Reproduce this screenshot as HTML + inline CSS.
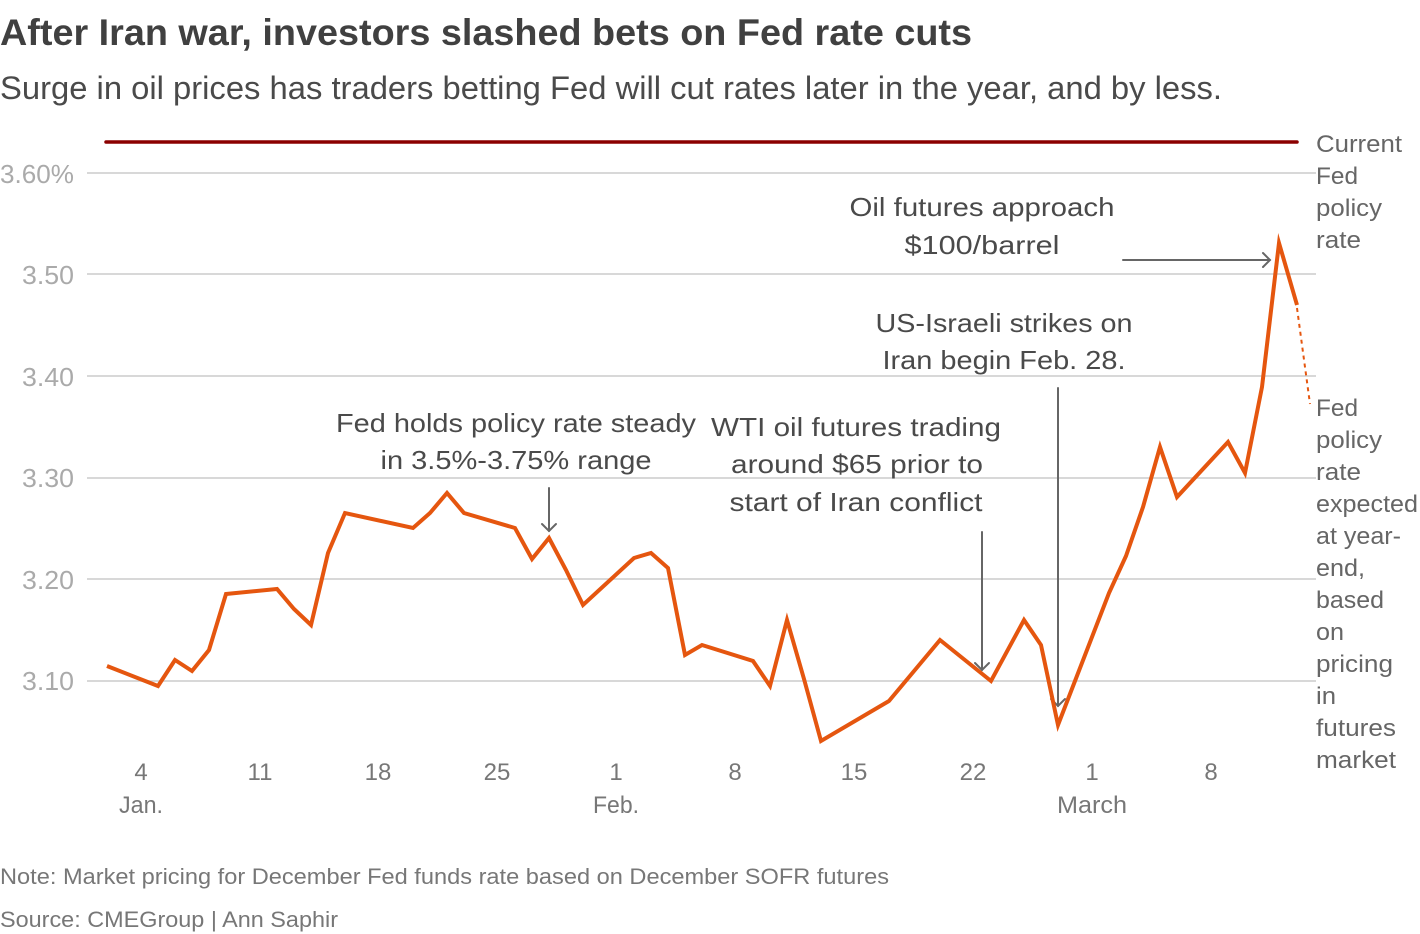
<!DOCTYPE html>
<html>
<head>
<meta charset="utf-8">
<style>
  html, body { margin: 0; padding: 0; background: #fff; }
  svg { display: block; }
  text { font-family: "Liberation Sans", "DejaVu Sans", sans-serif; }
</style>
</head>
<body>
<svg width="1420" height="934" viewBox="0 0 1420 934" xmlns="http://www.w3.org/2000/svg">
  <rect width="1420" height="934" fill="#fff"/>

  <!-- Title & subtitle -->
  <text x="0" y="45" font-size="37" font-weight="bold" fill="#404040" textLength="972" lengthAdjust="spacingAndGlyphs">After Iran war, investors slashed bets on Fed rate cuts</text>
  <text x="0" y="99" font-size="32" fill="#4a4a4a" textLength="1222" lengthAdjust="spacingAndGlyphs">Surge in oil prices has traders betting Fed will cut rates later in the year, and by less.</text>

  <!-- Gridlines -->
  <g stroke="#cccccc" stroke-width="1.4">
    <line x1="87" y1="173" x2="1316" y2="173"/>
    <line x1="87" y1="274" x2="1316" y2="274"/>
    <line x1="87" y1="376" x2="1316" y2="376"/>
    <line x1="87" y1="478" x2="1316" y2="478"/>
    <line x1="87" y1="579" x2="1316" y2="579"/>
    <line x1="87" y1="681" x2="1316" y2="681"/>
  </g>

  <!-- Y labels -->
  <g font-size="26" fill="#aaaaaa">
    <text x="0" y="183" textLength="74" lengthAdjust="spacingAndGlyphs">3.60%</text>
    <text x="22" y="284" textLength="52" lengthAdjust="spacingAndGlyphs">3.50</text>
    <text x="22" y="386" textLength="52" lengthAdjust="spacingAndGlyphs">3.40</text>
    <text x="22" y="487" textLength="52" lengthAdjust="spacingAndGlyphs">3.30</text>
    <text x="22" y="589" textLength="52" lengthAdjust="spacingAndGlyphs">3.20</text>
    <text x="22" y="690" textLength="52" lengthAdjust="spacingAndGlyphs">3.10</text>
  </g>

  <!-- Current Fed rate line -->
  <line x1="106" y1="142" x2="1297" y2="142" stroke="#8b0000" stroke-width="3.5" stroke-linecap="round"/>

  <!-- Annotation text -->
  <g font-size="26" fill="#4a4a4a" text-anchor="middle">
    <text x="516" y="432" textLength="360" lengthAdjust="spacingAndGlyphs">Fed holds policy rate steady</text>
    <text x="516" y="469" textLength="271" lengthAdjust="spacingAndGlyphs">in 3.5%-3.75% range</text>

    <text x="856" y="436" textLength="290" lengthAdjust="spacingAndGlyphs">WTI oil futures trading</text>
    <text x="857" y="473" textLength="252" lengthAdjust="spacingAndGlyphs">around $65 prior to</text>
    <text x="856" y="511" textLength="253" lengthAdjust="spacingAndGlyphs">start of Iran conflict</text>

    <text x="1004" y="332" textLength="257" lengthAdjust="spacingAndGlyphs">US-Israeli strikes on</text>
    <text x="1004" y="369" textLength="243" lengthAdjust="spacingAndGlyphs">Iran begin Feb. 28.</text>

    <text x="982" y="216" textLength="265" lengthAdjust="spacingAndGlyphs">Oil futures approach</text>
    <text x="982" y="254" textLength="155" lengthAdjust="spacingAndGlyphs">$100/barrel</text>
  </g>

  <!-- Arrows -->
  <g stroke="#666666" stroke-width="2" fill="none" stroke-linecap="round">
    <line x1="549" y1="488" x2="549" y2="531"/>
    <polyline points="542,524 549,531 556,524"/>

    <line x1="982" y1="532" x2="982" y2="670"/>
    <polyline points="975,663 982,670 989,663"/>

    <line x1="1058" y1="388" x2="1058" y2="706"/>
    <polyline points="1051,699 1058,706 1065,699"/>

    <line x1="1123" y1="260" x2="1270" y2="260"/>
    <polyline points="1263,253 1270,260 1263,267"/>
  </g>

  <!-- Data series -->
  <polyline fill="none" stroke="#e5560f" stroke-width="4" stroke-linejoin="miter" stroke-miterlimit="6"
    points="107,666 158,686 175,660 192,671 209,650 226,594 277,589 294,609 311,625 328,553 345,513 413,528 430,513 447,493 464,513 515,528 532,559 549,538 566,570 583,605 634,558 651,553 668,568 685,655 702,645 753,661 770,686 787,620 804,679 821,741 889,701 940,640 991,681 1024,620 1041,645 1058,725 1109,593 1126,556 1143,507 1160,447 1177,497 1228,442 1245,473 1262,387 1279,243 1297,305"/>
  <line x1="1297" y1="308" x2="1310" y2="404" stroke="#e5560f" stroke-width="2" stroke-dasharray="4 4"/>

  <!-- X labels -->
  <g font-size="24" fill="#777777" text-anchor="middle">
    <text x="141" y="780">4</text>
    <text x="260" y="780">11</text>
    <text x="378" y="780">18</text>
    <text x="497" y="780">25</text>
    <text x="616" y="780">1</text>
    <text x="735" y="780">8</text>
    <text x="854" y="780">15</text>
    <text x="973" y="780">22</text>
    <text x="1092" y="780">1</text>
    <text x="1211" y="780">8</text>
    <text x="141" y="813" textLength="44" lengthAdjust="spacingAndGlyphs">Jan.</text>
    <text x="616" y="813" textLength="46" lengthAdjust="spacingAndGlyphs">Feb.</text>
    <text x="1092" y="813" textLength="70" lengthAdjust="spacingAndGlyphs">March</text>
  </g>

  <!-- Right labels -->
  <g font-size="24" fill="#666666">
    <text x="1316" y="152" textLength="86" lengthAdjust="spacingAndGlyphs">Current</text>
    <text x="1316" y="184" textLength="42" lengthAdjust="spacingAndGlyphs">Fed</text>
    <text x="1316" y="216" textLength="66" lengthAdjust="spacingAndGlyphs">policy</text>
    <text x="1316" y="248" textLength="45" lengthAdjust="spacingAndGlyphs">rate</text>

    <text x="1316" y="416" textLength="42" lengthAdjust="spacingAndGlyphs">Fed</text>
    <text x="1316" y="448" textLength="66" lengthAdjust="spacingAndGlyphs">policy</text>
    <text x="1316" y="480" textLength="45" lengthAdjust="spacingAndGlyphs">rate</text>
    <text x="1316" y="512" textLength="102" lengthAdjust="spacingAndGlyphs">expected</text>
    <text x="1316" y="544" textLength="85" lengthAdjust="spacingAndGlyphs">at year-</text>
    <text x="1316" y="576" textLength="49" lengthAdjust="spacingAndGlyphs">end,</text>
    <text x="1316" y="608" textLength="68" lengthAdjust="spacingAndGlyphs">based</text>
    <text x="1316" y="640" textLength="28" lengthAdjust="spacingAndGlyphs">on</text>
    <text x="1316" y="672" textLength="77" lengthAdjust="spacingAndGlyphs">pricing</text>
    <text x="1316" y="704" textLength="20" lengthAdjust="spacingAndGlyphs">in</text>
    <text x="1316" y="736" textLength="80" lengthAdjust="spacingAndGlyphs">futures</text>
    <text x="1316" y="768" textLength="80" lengthAdjust="spacingAndGlyphs">market</text>
  </g>

  <!-- Footnotes -->
  <g font-size="22" fill="#777777">
    <text x="0" y="884" textLength="889" lengthAdjust="spacingAndGlyphs">Note: Market pricing for December Fed funds rate based on December SOFR futures</text>
    <text x="0" y="927" textLength="338" lengthAdjust="spacingAndGlyphs">Source: CMEGroup | Ann Saphir</text>
  </g>
</svg>
</body>
</html>
